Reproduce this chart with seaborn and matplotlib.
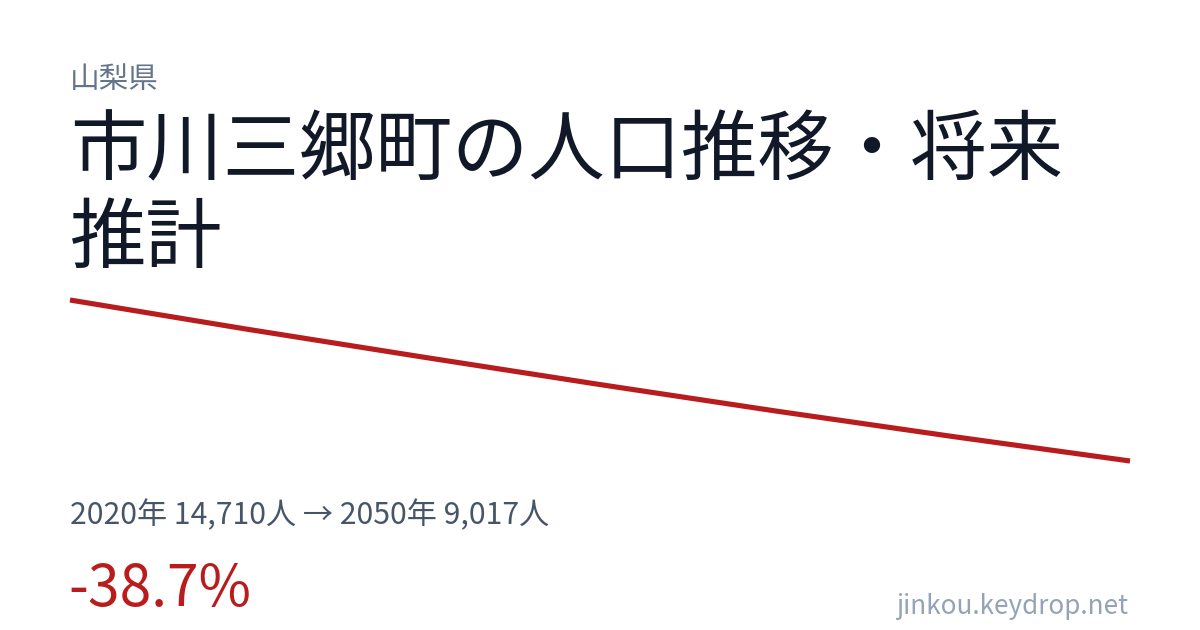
import matplotlib
matplotlib.use("Agg")
import matplotlib.pyplot as plt
import pandas as pd
import seaborn as sns

# ------------------------------------------------------------
# data
# ------------------------------------------------------------
years = [2020, 2025, 2030, 2035, 2040, 2045, 2050]
population = [14710, 13680, 12690, 11720, 10780, 9880, 9017]

prefecture = "山梨県"
title = "市川三郷町の人口推移・将来\n推計"
summary = "2020年 14,710人 → 2050年 9,017人"
change = "-38.7%"
site = "jinkou.keydrop.net"

df = pd.DataFrame({"year": years, "population": population})

sns.set_theme(style="white")
plt.rcParams["font.family"] = ["Noto Sans CJK JP", "DejaVu Sans"]

W, H = 1200, 630
fig = plt.figure(figsize=(W / 100, H / 100), dpi=100)
fig.patch.set_facecolor("white")

# line area in pixels: x 70..1130, y 300..461
ax = fig.add_axes([70 / W, (H - 461) / H, 1060 / W, 161 / H])
sns.lineplot(data=df, x="year", y="population", ax=ax,
             color="#b91c1c", linewidth=3.7, clip_on=False)
ax.lines[0].set_solid_capstyle("butt")
ax.set_xlim(min(years), max(years))
ax.set_ylim(min(population), max(population))
ax.axis("off")

def px(x, y):
    return x / W, 1 - y / H

fig.text(*px(70, 80), prefecture, fontsize=21.3, color="#64748b", va="center", ha="left")
fig.text(*px(70, 196), title, fontsize=55, color="#111827", va="center", ha="left",
         linespacing=1.13)
fig.text(*px(70, 516), summary, fontsize=21.7, color="#475569", va="center", ha="left")
fig.text(*px(68, 590), change, fontsize=41, color="#b91c1c", va="center", ha="left")
fig.text(*px(1128, 606), site, fontsize=18.8, color="#94a3b8", va="center", ha="right")

fig.savefig("out.png", dpi=100, facecolor="white")
